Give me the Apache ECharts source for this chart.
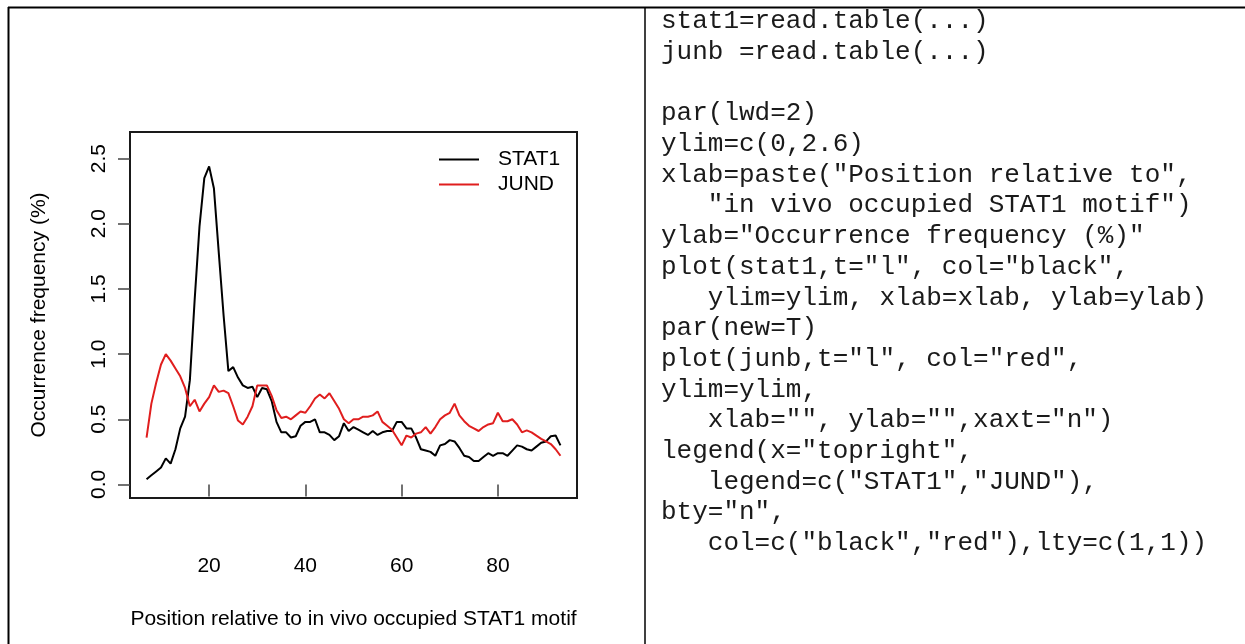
<!DOCTYPE html>
<html>
<head>
<meta charset="utf-8">
<title>STAT1 / JUND</title>
<script src="https://cdn.jsdelivr.net/npm/echarts@6/dist/echarts.min.js"></script>
<style>
  html, body { margin: 0; padding: 0; background: #fff; }
  #main { width: 1245px; height: 644px; }
</style>
</head>
<body>
<div id="main"></div>
<script>
// positions relative to the motif (x)
var positions = [7, 8, 9, 10, 11, 12, 13, 14, 15, 16, 17, 18, 19, 20, 21, 22, 23, 24, 25, 26,
  27, 28, 29, 30, 31, 32, 33, 34, 35, 36, 37, 38, 39, 40, 41, 42, 43, 44, 45, 46,
  47, 48, 49, 50, 51, 52, 53, 54, 55, 56, 57, 58, 59, 60, 61, 62, 63, 64, 65, 66,
  67, 68, 69, 70, 71, 72, 73, 74, 75, 76, 77, 78, 79, 80, 81, 82, 83, 84, 85, 86,
  87, 88, 89, 90, 91, 92, 93];

// occurrence frequency (%)
var stat1 = [0.04, 0.07, 0.10, 0.13, 0.20, 0.16, 0.27, 0.43, 0.52, 0.80, 1.42, 1.98, 2.35, 2.44, 2.27, 1.78, 1.30, 0.87, 0.90, 0.82,
  0.76, 0.74, 0.75, 0.67, 0.74, 0.73, 0.64, 0.48, 0.40, 0.40, 0.36, 0.37, 0.45, 0.48, 0.48, 0.50, 0.40, 0.40, 0.38, 0.34,
  0.37, 0.47, 0.41, 0.44, 0.42, 0.40, 0.38, 0.41, 0.38, 0.40, 0.41, 0.41, 0.48, 0.48, 0.43, 0.43, 0.36, 0.27, 0.26, 0.25,
  0.22, 0.30, 0.31, 0.34, 0.33, 0.28, 0.22, 0.21, 0.18, 0.18, 0.21, 0.24, 0.22, 0.24, 0.24, 0.22, 0.26, 0.30, 0.29, 0.27,
  0.26, 0.29, 0.32, 0.33, 0.37, 0.375, 0.30];

var jund = [0.36, 0.62, 0.78, 0.92, 1.00, 0.95, 0.89, 0.83, 0.74, 0.60, 0.65, 0.56, 0.62, 0.67, 0.76, 0.71, 0.72, 0.70, 0.60, 0.49,
  0.46, 0.52, 0.60, 0.76, 0.76, 0.76, 0.68, 0.57, 0.51, 0.52, 0.50, 0.53, 0.56, 0.55, 0.60, 0.66, 0.69, 0.66, 0.70, 0.64,
  0.58, 0.50, 0.47, 0.50, 0.50, 0.52, 0.52, 0.53, 0.56, 0.48, 0.45, 0.42, 0.36, 0.30, 0.375, 0.36, 0.39, 0.40, 0.44, 0.39,
  0.44, 0.50, 0.53, 0.55, 0.62, 0.53, 0.485, 0.45, 0.43, 0.41, 0.44, 0.46, 0.47, 0.55, 0.485, 0.485, 0.50, 0.46, 0.40, 0.415,
  0.40, 0.375, 0.35, 0.33, 0.31, 0.27, 0.22];

var xTicks = [20, 40, 60, 80];
var yTicks = [0, 0.5, 1, 1.5, 2, 2.5];
var seriesNames = ['STAT1', 'JUND'];

// R source shown next to the plot
var codeLines = [
  'stat1=read.table(...)',
  'junb =read.table(...)',
  '',
  'par(lwd=2)',
  'ylim=c(0,2.6)',
  'xlab=paste("Position relative to",',
  '   "in vivo occupied STAT1 motif")',
  'ylab="Occurrence frequency (%)"',
  'plot(stat1,t="l", col="black",',
  '   ylim=ylim, xlab=xlab, ylab=ylab)',
  'par(new=T)',
  'plot(junb,t="l", col="red",',
  'ylim=ylim,',
  '   xlab="", ylab="",xaxt="n")',
  'legend(x="topright",',
  '   legend=c("STAT1","JUND"),',
  'bty="n",',
  '   col=c("black","red"),lty=c(1,1))'
];

var font = '"Liberation Sans", Arial, sans-serif';

function pairs(xs, ys) {
  var out = [];
  for (var i = 0; i < xs.length; i++) {
    out.push([xs[i], ys[i]]);
  }
  return out;
}

var graphics = [
  // table borders
  { type: 'line', shape: { x1: 8, y1: 7.5, x2: 1245, y2: 7.5 }, style: { stroke: '#000', lineWidth: 2 } },
  { type: 'line', shape: { x1: 8.5, y1: 7, x2: 8.5, y2: 644 }, style: { stroke: '#000', lineWidth: 2 } },
  { type: 'line', shape: { x1: 645, y1: 7, x2: 645, y2: 644 }, style: { stroke: '#000', lineWidth: 1.5 } }
];
for (var i = 0; i < codeLines.length; i++) {
  graphics.push({
    type: 'text',
    x: 661,
    y: 21.4 + 30.7 * i,
    style: {
      text: codeLines[i],
      font: '26px "Liberation Mono", "Courier New", monospace',
      fill: '#1a1a1a',
      textVerticalAlign: 'middle'
    }
  });
}

var chart = echarts.init(document.getElementById('main'), null, { renderer: 'canvas' });

var option = {
  animation: false,
  backgroundColor: '#fff',
  grid: {
    left: 130, top: 132, width: 447, height: 366,
    show: true, borderColor: '#1a1a1a', borderWidth: 2, backgroundColor: 'transparent'
  },
  legend: {
    orient: 'vertical',
    left: 434, top: 144,
    itemWidth: 40, itemHeight: 2, itemGap: 4,
    icon: 'rect',
    data: seriesNames,
    textStyle: { fontFamily: font, fontSize: 21, color: '#000', padding: [0, 0, 0, 14] }
  },
  xAxis: {
    type: 'value',
    min: 3.56, max: 96.44,
    name: 'Position relative to in vivo occupied STAT1 motif',
    nameLocation: 'middle',
    nameGap: 111,
    nameTextStyle: { fontFamily: font, fontSize: 21, color: '#000' },
    axisLine: { show: false },
    splitLine: { show: false },
    axisTick: { show: true, customValues: xTicks, length: 12, lineStyle: { color: '#444', width: 1.5 } },
    axisLabel: { customValues: xTicks, margin: 58, fontFamily: font, fontSize: 21, color: '#000' }
  },
  yAxis: {
    type: 'value',
    min: -0.104, max: 2.704,
    name: 'Occurrence frequency (%)',
    nameLocation: 'middle',
    nameGap: 80,
    nameTextStyle: { fontFamily: font, fontSize: 21, color: '#000' },
    axisLine: { show: false },
    splitLine: { show: false },
    axisTick: { show: true, customValues: yTicks, length: 12, lineStyle: { color: '#444', width: 1.5 } },
    axisLabel: {
      customValues: yTicks, rotate: 90, margin: 20,
      fontFamily: font, fontSize: 21, color: '#000',
      formatter: function (v) { return v.toFixed(1); }
    }
  },
  series: [
    {
      name: seriesNames[0], type: 'line', data: pairs(positions, stat1),
      showSymbol: false, lineStyle: { color: '#000', width: 2 }, itemStyle: { color: '#000' }
    },
    {
      name: seriesNames[1], type: 'line', data: pairs(positions, jund),
      showSymbol: false, lineStyle: { color: '#e01e1e', width: 2 }, itemStyle: { color: '#e01e1e' }
    }
  ],
  graphic: graphics
};

chart.setOption(option);
</script>
</body>
</html>
